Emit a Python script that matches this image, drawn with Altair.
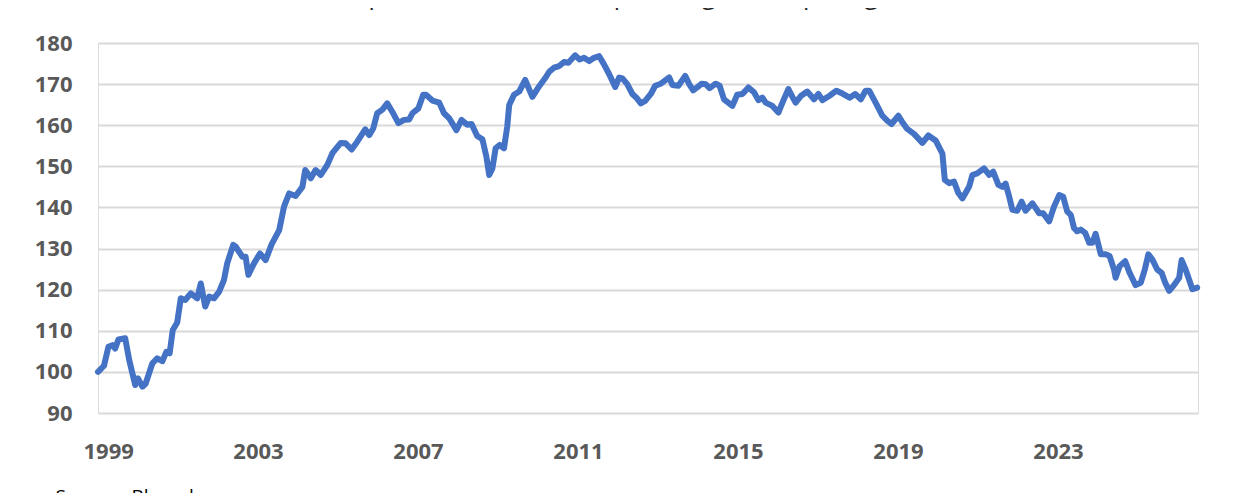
import altair as alt
import pandas as pd

# x positions (fractional year) and index values
years = [
    1999.00, 1999.15, 1999.26, 1999.36, 1999.43, 1999.51, 1999.68, 1999.78, 1999.93, 2000.00,
    2000.11, 2000.19, 2000.36, 2000.48, 2000.61, 2000.71, 2000.79, 2000.87, 2000.98, 2001.07,
    2001.18, 2001.32, 2001.48, 2001.57, 2001.68, 2001.78, 2001.90, 2002.03, 2002.15, 2002.23,
    2002.38, 2002.44, 2002.61, 2002.69, 2002.76, 2002.90, 2003.05, 2003.19, 2003.34, 2003.53,
    2003.65, 2003.78, 2003.94, 2004.11, 2004.18, 2004.32, 2004.44, 2004.57, 2004.73, 2004.86,
    2005.07, 2005.19, 2005.34, 2005.48, 2005.68, 2005.78, 2005.88, 2005.98, 2006.11, 2006.23,
    2006.38, 2006.51, 2006.65, 2006.78, 2006.86, 2007.01, 2007.13, 2007.20, 2007.36, 2007.53,
    2007.65, 2007.78, 2007.96, 2008.09, 2008.23, 2008.34, 2008.48, 2008.61, 2008.71, 2008.78,
    2008.86, 2008.94, 2009.04, 2009.15, 2009.23, 2009.28, 2009.40, 2009.53, 2009.68, 2009.86,
    2010.03, 2010.19, 2010.28, 2010.40, 2010.53, 2010.65, 2010.76, 2010.93, 2011.04, 2011.15,
    2011.28, 2011.40, 2011.53, 2011.65, 2011.78, 2011.93, 2012.03, 2012.11, 2012.23, 2012.36,
    2012.46, 2012.57, 2012.68, 2012.82, 2012.93, 2013.07, 2013.18, 2013.28, 2013.36, 2013.51,
    2013.68, 2013.78, 2013.88, 2013.98, 2014.09, 2014.19, 2014.29, 2014.44, 2014.54, 2014.65,
    2014.78, 2014.86, 2014.98, 2015.11, 2015.26, 2015.40, 2015.51, 2015.61, 2015.69, 2015.86,
    2016.01, 2016.13, 2016.26, 2016.36, 2016.44, 2016.57, 2016.73, 2016.90, 2017.01, 2017.11,
    2017.28, 2017.46, 2017.61, 2017.79, 2017.93, 2018.07, 2018.19, 2018.28, 2018.44, 2018.61,
    2018.73, 2018.84, 2019.01, 2019.11, 2019.23, 2019.40, 2019.61, 2019.76, 2019.94, 2020.11,
    2020.17, 2020.28, 2020.40, 2020.51, 2020.61, 2020.78, 2020.86, 2020.98, 2021.15, 2021.28,
    2021.38, 2021.51, 2021.61, 2021.69, 2021.78, 2021.86, 2021.98, 2022.09, 2022.19, 2022.36,
    2022.53, 2022.63, 2022.78, 2022.90, 2023.03, 2023.13, 2023.23, 2023.32, 2023.40, 2023.48,
    2023.57, 2023.68, 2023.78, 2023.86, 2023.94, 2024.07, 2024.19, 2024.29, 2024.40, 2024.44,
    2024.54, 2024.68, 2024.79, 2024.94, 2025.07, 2025.17, 2025.26, 2025.36, 2025.48, 2025.59,
    2025.68, 2025.78, 2025.90, 2026.03, 2026.09, 2026.19, 2026.29, 2026.36, 2026.48,
]

values = [
    100.0, 101.5, 106.1, 106.5, 105.7, 107.9, 108.2, 102.9, 96.8, 98.4,
    96.4, 97.1, 102.1, 103.3, 102.6, 104.9, 104.5, 110.2, 112.0, 117.9,
    117.5, 119.1, 117.9, 121.5, 115.9, 118.3, 117.9, 119.5, 122.4, 126.4,
    130.9, 130.5, 128.0, 128.0, 123.6, 126.4, 128.8, 127.2, 131.0, 134.5,
    140.2, 143.4, 142.8, 145.0, 149.1, 147.1, 149.1, 147.9, 150.3, 153.2,
    155.7, 155.6, 154.1, 156.0, 159.0, 157.6, 159.2, 162.9, 163.8, 165.3,
    162.9, 160.5, 161.3, 161.4, 162.9, 164.1, 167.4, 167.4, 166.0, 165.5,
    162.9, 161.7, 158.8, 161.3, 160.1, 160.3, 157.4, 156.6, 152.3, 147.9,
    149.5, 154.4, 155.2, 154.4, 159.6, 164.9, 167.4, 168.2, 171.0, 166.9,
    169.5, 171.6, 173.0, 174.0, 174.4, 175.4, 175.2, 177.0, 176.0, 176.4,
    175.6, 176.4, 176.8, 174.8, 172.4, 169.3, 171.6, 171.4, 170.0, 167.6,
    166.7, 165.3, 165.9, 167.6, 169.6, 170.1, 170.9, 171.6, 169.8, 169.6,
    172.0, 170.0, 168.5, 169.2, 170.1, 170.0, 169.0, 170.1, 169.6, 166.3,
    165.3, 164.7, 167.4, 167.6, 169.2, 168.0, 166.1, 166.7, 165.5, 164.7,
    163.1, 165.9, 168.8, 166.9, 165.5, 167.1, 168.2, 166.3, 167.6, 166.1,
    167.1, 168.4, 167.7, 166.7, 167.6, 166.3, 168.4, 168.4, 165.5, 162.3,
    161.1, 160.3, 162.3, 160.7, 159.1, 157.9, 155.7, 157.5, 156.3, 153.1,
    146.7, 145.9, 146.3, 143.5, 142.2, 145.1, 147.9, 148.3, 149.5, 147.9,
    148.7, 145.5, 145.0, 145.8, 142.6, 139.4, 139.2, 141.4, 139.2, 141.0,
    138.6, 138.6, 136.6, 140.2, 143.0, 142.6, 139.0, 138.2, 135.0, 134.2,
    134.6, 133.8, 131.4, 131.4, 133.6, 128.6, 128.6, 128.2, 124.9, 122.9,
    125.7, 126.9, 124.1, 121.1, 121.7, 124.9, 128.6, 127.3, 124.9, 124.1,
    121.7, 119.7, 121.1, 122.9, 127.2, 124.9, 122.1, 120.1, 120.5,
]

x_ticks = [1999, 2003, 2007, 2011, 2015, 2019, 2023]
y_ticks = [90, 100, 110, 120, 130, 140, 150, 160, 170, 180]

title_text = "Global equities total return: equal weight vs cap weight"
source_text = "Source:\u00a0\u00a0Bloomberg"

df = pd.DataFrame({"year": years, "value": values})

FONT = "Open Sans"
LABEL_COLOR = "#595959"

chart = (
    alt.Chart(df)
    .mark_line(color="#4472C4", strokeWidth=6, strokeJoin="round", strokeCap="round")
    .encode(
        x=alt.X(
            "year:Q",
            scale=alt.Scale(domain=[1999, 2026.5], nice=False, zero=False),
            axis=alt.Axis(
                values=x_ticks,
                format="d",
                grid=False,
                ticks=False,
                domain=False,
                labelPadding=28,
                labelFlush=True,
                labelFlushOffset=15,
                labelFont=FONT,
                labelFontSize=22,
                labelFontWeight="bold",
                labelColor=LABEL_COLOR,
                title=source_text,
                titleFont=FONT,
                titleFontSize=19,
                titleFontWeight="normal",
                titleColor="#000000",
                titleAnchor="start",
                titleAlign="left",
                titleBaseline="top",
                titleX=-43,
                titleY=74,
            ),
        ),
        y=alt.Y(
            "value:Q",
            scale=alt.Scale(domain=[90, 180], nice=False, zero=False),
            axis=alt.Axis(
                values=y_ticks,
                grid=True,
                gridColor="#d9d9d9",
                gridWidth=2,
                ticks=False,
                domain=False,
                labelPadding=26,
                labelFont=FONT,
                labelFontSize=22,
                labelFontWeight="bold",
                labelColor=LABEL_COLOR,
                title=None,
            ),
        ),
    )
    .properties(
        width=1100,
        height=370,
        autosize=alt.AutoSizeParams(type="none"),
        padding={"left": 90, "top": 35, "right": 36, "bottom": 85},
        title=alt.TitleParams(
            text=title_text,
            anchor="start",
            frame="group",
            dx=166,
            offset=23,
            font=FONT,
            fontSize=25,
            fontWeight="normal",
            color="#222222",
        ),
    )
    .configure_view(stroke=None)
    .configure(background="white")
)

chart.save("out.html", embed_options={"renderer": "svg", "actions": False})
